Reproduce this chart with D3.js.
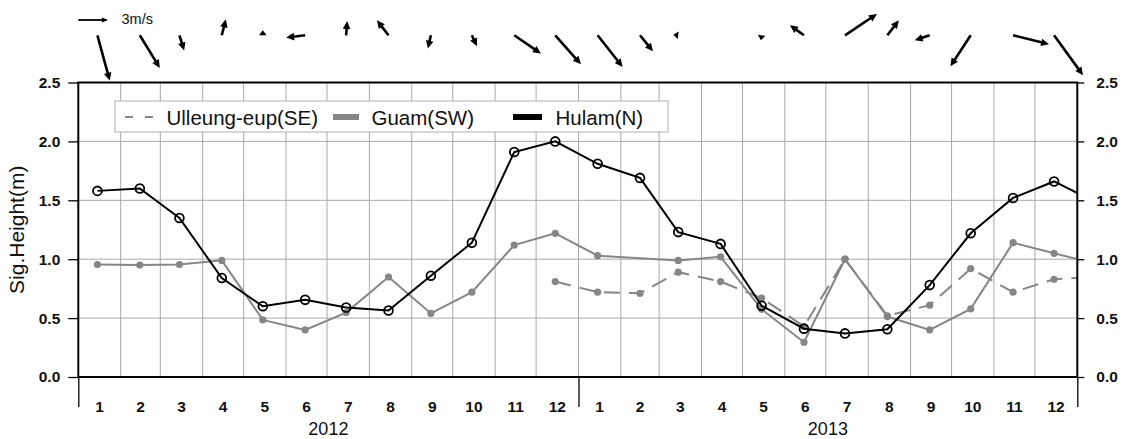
<!DOCTYPE html>
<html>
<head>
<meta charset="utf-8">
<script src="https://cdn.jsdelivr.net/npm/d3@7"></script>
<style>
  body { margin: 0; background: #fff; }
  text { font-family: "Liberation Sans", Arial, Helvetica, sans-serif; }
</style>
</head>
<body>
<svg id="chart" width="1126" height="439"></svg>
<script>
// Monthly values Jan 2012 .. Dec 2013, plus Jan 2014 (only the stub up to the frame edge shows)
const years = [2012, 2013];
const monthLabels = ['1', '2', '3', '4', '5', '6', '7', '8', '9', '10', '11', '12'];
const seriesNames = ['Ulleung-eup(SE)', 'Guam(SW)', 'Hulam(N)'];

const hulam = [1.58, 1.60, 1.35, 0.84, 0.60, 0.655, 0.59, 0.565, 0.86, 1.14, 1.91, 2.00,
               1.81, 1.69, 1.23, 1.13, 0.605, 0.41, 0.37, 0.405, 0.78, 1.22, 1.52, 1.66, 1.48];
const guam = [0.955, 0.95, 0.955, 0.99, 0.485, 0.40, 0.547, 0.848, 0.54, 0.72, 1.12, 1.22,
              1.03, null, 0.99, 1.02, 0.575, 0.295, 1.0, 0.513, 0.40, 0.578, 1.14, 1.05, 0.96];
const ulleung = [null, null, null, null, null, null, null, null, null, null, null, 0.81,
                 0.72, 0.71, 0.89, 0.81, 0.67, 0.43, 1.0, 0.52, 0.61, 0.92, 0.72, 0.83, 0.85];

// wind components (m/s), one vector per month
const windU = [1.23, 2.0, 0.47, 0.4, 0, -1.9, 0.1, -1.16, -0.3, 0.5, 2.67, 2.57,
               2.5, 1.3, -0.45, null, -0.05, -1.4, 3.2, 1.15, -1.5, -2.03, 3.6, 2.9];
const windV = [-4.53, -3.26, -1.53, 1.6, 0.35, -0.23, 1.43, 1.5, -1.33, -1.1, -1.83, -2.9,
               -3.17, -1.6, 0.05, null, -0.35, 1.0, 2.14, 1.5, -0.5, -3.1, -0.9, -4.0];
const refSpeed = 3;

const GRAY = '#868686';

const svg = d3.select('#chart');
const pL = 78.3, pR = 1077.3, pT = 82.5, pB = 377;

const start = new Date(Date.UTC(2012, 0, 1));
const end = new Date(Date.UTC(2014, 0, 1));
const x = d3.scaleUtc().domain([start, end]).range([pL, pR]);
const y = d3.scaleLinear().domain([0, 2.5]).range([pB, pT]);
const mag = d3.scaleLinear().domain([0, refSpeed]).range([0, 30]);

const midMonth = i => new Date(Date.UTC(2012, i, 15));

// grid
const monthStarts = d3.utcMonth.range(start, end).slice(1);
svg.append('g').selectAll('line')
  .data(monthStarts)
  .enter().append('line')
  .attr('x1', d => x(d)).attr('x2', d => x(d))
  .attr('y1', pT).attr('y2', pB)
  .style('stroke', '#a8a8a8').style('stroke-width', 1);

svg.append('g').selectAll('line')
  .data([0.5, 1.0, 1.5, 2.0])
  .enter().append('line')
  .attr('x1', pL).attr('x2', pR)
  .attr('y1', d => y(d)).attr('y2', d => y(d))
  .style('stroke', '#a8a8a8').style('stroke-width', 1);

// legend box (sits over the grid)
const legend = svg.append('g');
legend.append('rect')
  .attr('x', 115).attr('y', 101).attr('width', 553).attr('height', 31)
  .style('fill', '#fff').style('stroke', '#b0b0b0').style('stroke-width', 1);

// series
svg.append('clipPath').attr('id', 'plotClip')
  .append('rect').attr('x', pL).attr('y', pT - 10)
  .attr('width', pR - pL).attr('height', pB - pT + 20);

const plot = svg.append('g').attr('clip-path', 'url(#plotClip)');
const toPoints = vals => vals.map((v, i) => ({ date: midMonth(i), v, i })).filter(d => d.v != null);
const line = d3.line().x(d => x(d.date)).y(d => y(d.v));

const ulleungPts = toPoints(ulleung);
const guamPts = toPoints(guam);
const hulamPts = toPoints(hulam);

plot.append('path').datum(ulleungPts).attr('d', line)
  .style('fill', 'none').style('stroke', GRAY).style('stroke-width', 2)
  .style('stroke-dasharray', '16,9');
plot.selectAll('.udot').data(ulleungPts.filter(d => d.i < 24))
  .enter().append('circle').attr('class', 'udot')
  .attr('cx', d => x(d.date)).attr('cy', d => y(d.v)).attr('r', 3.6)
  .style('fill', GRAY);

plot.append('path').datum(guamPts).attr('d', line)
  .style('fill', 'none').style('stroke', GRAY).style('stroke-width', 2);
plot.selectAll('.gdot').data(guamPts.filter(d => d.i < 24))
  .enter().append('circle').attr('class', 'gdot')
  .attr('cx', d => x(d.date)).attr('cy', d => y(d.v)).attr('r', 3.6)
  .style('fill', GRAY);

plot.append('path').datum(hulamPts).attr('d', line)
  .style('fill', 'none').style('stroke', '#000').style('stroke-width', 2);
plot.selectAll('.hdot').data(hulamPts.filter(d => d.i < 24))
  .enter().append('circle').attr('class', 'hdot')
  .attr('cx', d => x(d.date)).attr('cy', d => y(d.v)).attr('r', 4.4)
  .style('fill', 'none').style('stroke', '#000').style('stroke-width', 1.8);

// frame
svg.append('rect')
  .attr('x', pL).attr('y', pT).attr('width', pR - pL).attr('height', pB - pT)
  .style('fill', 'none').style('stroke', '#000').style('stroke-width', 2);

// y axes
const major = [0, 0.5, 1.0, 1.5, 2.0, 2.5];
const minor = d3.range(0, 26).map(k => k / 10);

const yl = svg.append('g').attr('transform', `translate(${pL},0)`);
yl.call(d3.axisLeft(y).tickValues(minor).tickSize(4.5).tickFormat(''));
yl.call(d3.axisLeft(y).tickValues(major).tickSize(10).tickPadding(8).tickFormat(d3.format('.1f')));
yl.select('.domain').remove();
yl.selectAll('text').style('font-size', '15.5px').style('font-weight', 'bold').style('fill', '#111');
yl.selectAll('line').style('stroke', '#000').style('stroke-width', 1.3);

const yr = svg.append('g').attr('transform', `translate(${pR},0)`);
yr.call(d3.axisRight(y).tickValues(minor).tickSize(4).tickFormat(''));
yr.call(d3.axisRight(y).tickValues(major).tickSize(7).tickPadding(12).tickFormat(d3.format('.1f')));
yr.select('.domain').remove();
yr.selectAll('text').style('font-size', '15.5px').style('font-weight', 'bold').style('fill', '#111');
yr.selectAll('line').style('stroke', '#000').style('stroke-width', 1.3);

svg.append('text')
  .attr('transform', `translate(23.5,${(pT + pB) / 2}) rotate(-90)`)
  .attr('text-anchor', 'middle')
  .style('font-size', '21px').style('fill', '#111')
  .text('Sig.Height(m)');

// x axis: month ticks short, year ticks long
const xb = svg.append('g').attr('transform', `translate(0,${pB})`);
xb.call(d3.axisBottom(x).tickValues(monthStarts.filter(d => d.getUTCMonth() !== 0)).tickSize(10).tickFormat(''));
xb.call(d3.axisBottom(x).tickValues([start, new Date(Date.UTC(2013, 0, 1)), end]).tickSize(30).tickFormat(''));
xb.select('.domain').remove();
xb.selectAll('line').style('stroke', '#000').style('stroke-width', 1.3);

years.forEach(yr0 => {
  monthLabels.forEach((m, mi) => {
    const a = new Date(Date.UTC(yr0, mi, 1));
    const b = new Date(Date.UTC(yr0, mi + 1, 1));
    svg.append('text')
      .attr('x', (x(a) + x(b)) / 2).attr('y', pB + 34.5)
      .attr('text-anchor', 'middle')
      .style('font-size', '15.5px').style('font-weight', 'bold').style('fill', '#111')
      .text(m);
  });
  const ya = new Date(Date.UTC(yr0, 0, 1));
  const yb = new Date(Date.UTC(yr0 + 1, 0, 1));
  svg.append('text')
    .attr('x', (x(ya) + x(yb)) / 2).attr('y', pB + 57.5)
    .attr('text-anchor', 'middle')
    .style('font-size', '18px').style('fill', '#111')
    .text(yr0);
});

// legend items
legend.append('line')
  .attr('x1', 125).attr('x2', 154).attr('y1', 117).attr('y2', 117)
  .style('stroke', GRAY).style('stroke-width', 2).style('stroke-dasharray', '8,12');
legend.append('line')
  .attr('x1', 333).attr('x2', 359).attr('y1', 117).attr('y2', 117)
  .style('stroke', GRAY).style('stroke-width', 6);
legend.append('line')
  .attr('x1', 513).attr('x2', 542).attr('y1', 117).attr('y2', 117)
  .style('stroke', '#000').style('stroke-width', 6);
[[166.5, 0], [371.5, 1], [555.5, 2]].forEach(([lx, k]) => {
  legend.append('text')
    .attr('x', lx).attr('y', 124.5)
    .style('font-size', '20.5px').style('fill', '#111')
    .text(seriesNames[k]);
});

// wind vectors along the top
function arrow(g, x0, y0, dx, dy, width, headL, headW) {
  const len = Math.hypot(dx, dy);
  if (!len) return;
  const ux = dx / len, uy = dy / len;
  const L = Math.max(len, 5);
  const hl = Math.min(headL, L);
  const tx = x0 + ux * L, ty = y0 + uy * L;
  const bx = tx - ux * hl, by = ty - uy * hl;
  if (L > hl) {
    g.append('line').attr('x1', x0).attr('y1', y0).attr('x2', bx + ux * 1).attr('y2', by + uy * 1)
      .style('stroke', '#000').style('stroke-width', width);
  }
  g.append('polygon')
    .attr('points', [[tx, ty], [bx - uy * headW, by + ux * headW], [bx + uy * headW, by - ux * headW]]
      .map(p => p.join(',')).join(' '))
    .style('fill', '#000');
}

const vecs = svg.append('g');
const vecY = 35.3;
windU.forEach((u, i) => {
  if (u == null) return;
  arrow(vecs, x(midMonth(i)), vecY, mag(u), -mag(windV[i]), 2.6, 8, 3.8);
});

// reference vector
arrow(vecs, 78.3, 20, mag(refSpeed), 0, 1.8, 6.5, 2.6);
svg.append('text')
  .attr('x', 121.5).attr('y', 24)
  .style('font-size', '14.5px').style('fill', '#111')
  .text(refSpeed + 'm/s');
</script>
</body>
</html>
